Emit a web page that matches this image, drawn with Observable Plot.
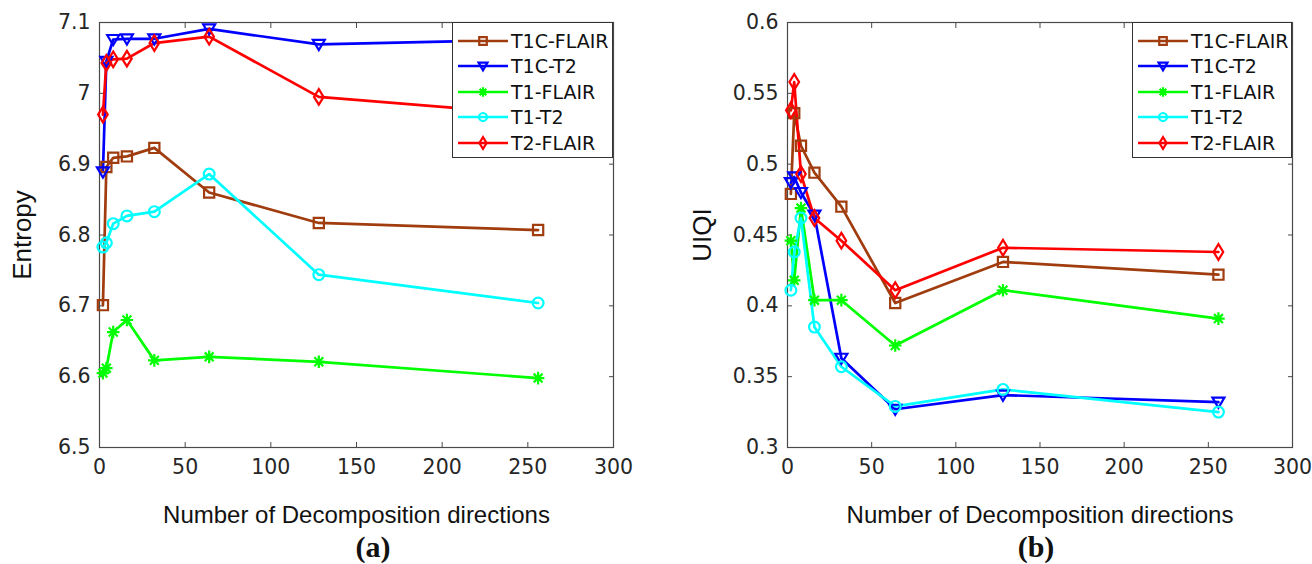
<!DOCTYPE html>
<html>
<head>
<meta charset="utf-8">
<script src="https://cdn.jsdelivr.net/npm/d3@7"></script>
<script src="https://cdn.jsdelivr.net/npm/@observablehq/plot@0.6"></script>
<style>
  html, body { margin: 0; padding: 0; background: #fff; }
  body { width: 1312px; height: 564px; position: relative; overflow: hidden; }
  .panel { position: absolute; top: 0; }
  .caption { position: absolute; width: 100px; text-align: center; font: bold 30px "Liberation Serif", "Times New Roman", serif; color: #111; line-height: 30px; }
  .legend { position: absolute; background: #fff; border: 1px solid #333; box-sizing: border-box; padding-top: 5px; }
  .legend .row { display: flex; align-items: center; height: 25.5px; font: 19px "DejaVu Sans", sans-serif; color: #111; white-space: nowrap; }
  .legend svg { display: block; margin-left: 5px; margin-right: 3px; overflow: visible; }
</style>
</head>
<body>
<div id="panelA" class="panel" style="left:0px"></div>
<div id="panelB" class="panel" style="left:656px"></div>
<div id="legendA" class="legend" style="left:452px; top:22px; width:161px; height:136px"></div>
<div id="legendB" class="legend" style="left:1132px; top:22px; width:160px; height:136px"></div>
<div class="caption" style="left:323px; top:532px">(a)</div>
<div class="caption" style="left:986px; top:532px">(b)</div>
<script>
// ---------- data ----------
const directions = [2, 4, 8, 16, 32, 64, 128, 256];
const seriesNames = ["T1C-FLAIR", "T1C-T2", "T1-FLAIR", "T1-T2", "T2-FLAIR"];
const seriesColors = ["#A03C0E", "#0000FF", "#00FF00", "#00FFFF", "#FF0000"];

// (a) Entropy
const entropyT1CFLAIR = [6.701, 6.896, 6.909, 6.911, 6.923, 6.860, 6.817, 6.807];
const entropyT1CT2    = [6.889, 7.045, 7.076, 7.077, 7.077, 7.091, 7.069, 7.076];
const entropyT1FLAIR  = [6.605, 6.612, 6.663, 6.680, 6.623, 6.628, 6.621, 6.598];
const entropyT1T2     = [6.783, 6.789, 6.816, 6.827, 6.833, 6.886, 6.744, 6.704];
const entropyT2FLAIR  = [6.970, 7.043, 7.048, 7.049, 7.071, 7.080, 6.995, 6.970];

// (b) UIQI
const uiqiT1CFLAIR = [0.479, 0.536, 0.513, 0.494, 0.470, 0.402, 0.431, 0.422];
const uiqiT1CT2    = [0.487, 0.491, 0.480, 0.464, 0.363, 0.327, 0.337, 0.332];
const uiqiT1FLAIR  = [0.446, 0.418, 0.469, 0.404, 0.404, 0.372, 0.411, 0.391];
const uiqiT1T2     = [0.411, 0.438, 0.462, 0.385, 0.357, 0.329, 0.341, 0.325];
const uiqiT2FLAIR  = [0.538, 0.558, 0.493, 0.462, 0.446, 0.411, 0.441, 0.438];

// ticks
const xTicks = [0, 50, 100, 150, 200, 250, 300];
const entropyTicks = [6.5, 6.6, 6.7, 6.8, 6.9, 7.0, 7.1];
const uiqiTicks = [0.3, 0.35, 0.4, 0.45, 0.5, 0.55, 0.6];

// ---------- helpers ----------
function toRows(seriesArrays) {
  const rows = [];
  seriesArrays.forEach((vals, i) => {
    vals.forEach((v, j) => rows.push({series: seriesNames[i], x: directions[j], y: v}));
  });
  return rows;
}
const entropyRows = toRows([entropyT1CFLAIR, entropyT1CT2, entropyT1FLAIR, entropyT1T2, entropyT2FLAIR]);
const uiqiRows = toRows([uiqiT1CFLAIR, uiqiT1CT2, uiqiT1FLAIR, uiqiT1T2, uiqiT2FLAIR]);

// MATLAB-like marker shapes
const symSquare = {draw(c, s) { const r = Math.sqrt(s / Math.PI) * 0.85; c.moveTo(-r, -r); c.lineTo(r, -r); c.lineTo(r, r); c.lineTo(-r, r); c.closePath(); }};
const symTriDown = {draw(c, s) { const r = Math.sqrt(s / Math.PI); c.moveTo(-r, -r * 0.75); c.lineTo(r, -r * 0.75); c.lineTo(0, r * 0.95); c.closePath(); }};
const symAsterisk = {draw(c, s) { const r = Math.sqrt(s / Math.PI) * 1.05; const d = r * 0.7071;
  c.moveTo(0, -r); c.lineTo(0, r); c.moveTo(-r, 0); c.lineTo(r, 0);
  c.moveTo(-d, -d); c.lineTo(d, d); c.moveTo(-d, d); c.lineTo(d, -d); }};
const symCircle = {draw(c, s) { const r = Math.sqrt(s / Math.PI) * 0.9; c.moveTo(r, 0); c.arc(0, 0, r, 0, 2 * Math.PI); }};
const symDiamond = {draw(c, s) { const r = Math.sqrt(s / Math.PI); c.moveTo(0, -r * 1.3); c.lineTo(r * 0.8, 0); c.lineTo(0, r * 1.3); c.lineTo(-r * 0.8, 0); c.closePath(); }};
const seriesSymbols = [symSquare, symTriDown, symAsterisk, symCircle, symDiamond];

const fmt = d => String(+d.toFixed(2));

function makePanel({rows, yDomain, yTicks, yLabel, marginLeft, marginRight, yLabelOffset}) {
  return Plot.plot({
    width: 656,
    height: 530,
    marginLeft, marginRight,
    marginTop: 22,
    marginBottom: 83,
    style: {fontFamily: "DejaVu Sans, sans-serif", fontSize: "20px", color: "#262626", background: "white"},
    x: {domain: [0, 300]},
    y: {domain: yDomain},
    color: {domain: seriesNames, range: seriesColors},
    symbol: {domain: seriesNames, range: seriesSymbols},
    marks: [
      Plot.frame({stroke: "#4a4a4a", strokeWidth: 1.2}),
      Plot.axisX({ticks: xTicks, tickSize: -5, tickPadding: 17, tickFormat: fmt, stroke: "#4a4a4a", label: null, fontSize: 20.5}),
      Plot.axisX({anchor: "top", ticks: xTicks, tickSize: -5, tickFormat: () => "", stroke: "#4a4a4a", label: null}),
      Plot.axisX({ticks: [], label: "Number of Decomposition directions", labelAnchor: "center", labelArrow: "none", labelOffset: 75, fontSize: 24, fontFamily: "Liberation Sans, Arial, sans-serif", fill: "#111"}),
      Plot.axisY({ticks: yTicks, tickSize: -5, tickPadding: 14, tickFormat: fmt, stroke: "#4a4a4a", label: null, fontSize: 20.5}),
      Plot.axisY({anchor: "right", ticks: yTicks, tickSize: -5, tickFormat: () => "", stroke: "#4a4a4a", label: null}),
      Plot.axisY({ticks: [], label: yLabel, labelAnchor: "center", labelArrow: "none", labelOffset: yLabelOffset, fontSize: 26, fontFamily: "Liberation Sans, Arial, sans-serif", fill: "#111"}),
      Plot.line(rows, {x: "x", y: "y", z: "series", stroke: "series", strokeWidth: 2.7}),
      Plot.dot(rows, {x: "x", y: "y", symbol: "series", stroke: "series", fill: "none", r: 6, strokeWidth: 2.2})
    ]
  });
}

document.getElementById("panelA").append(makePanel({
  rows: entropyRows, yDomain: [6.5, 7.1], yTicks: entropyTicks, yLabel: "Entropy",
  marginLeft: 99, marginRight: 43, yLabelOffset: 87
}));
document.getElementById("panelB").append(makePanel({
  rows: uiqiRows, yDomain: [0.3, 0.6], yTicks: uiqiTicks, yLabel: "UIQI",
  marginLeft: 131, marginRight: 20, yLabelOffset: 95
}));

// legends
function buildLegend(id) {
  const box = d3.select("#" + id);
  seriesNames.forEach((name, i) => {
    const row = box.append("div").attr("class", "row");
    const svg = row.append("svg").attr("width", 50).attr("height", 20);
    svg.append("line").attr("x1", 0).attr("x2", 50).attr("y1", 10).attr("y2", 10)
      .attr("stroke", seriesColors[i]).attr("stroke-width", 2.7);
    svg.append("path").attr("transform", "translate(25,10)")
      .attr("d", d3.symbol(seriesSymbols[i], 5 * 5 * Math.PI * 0.8)())
      .attr("fill", "none").attr("stroke", seriesColors[i]).attr("stroke-width", 2.2);
    row.append("span").text(name);
  });
}
buildLegend("legendA");
buildLegend("legendB");
</script>
</body>
</html>
